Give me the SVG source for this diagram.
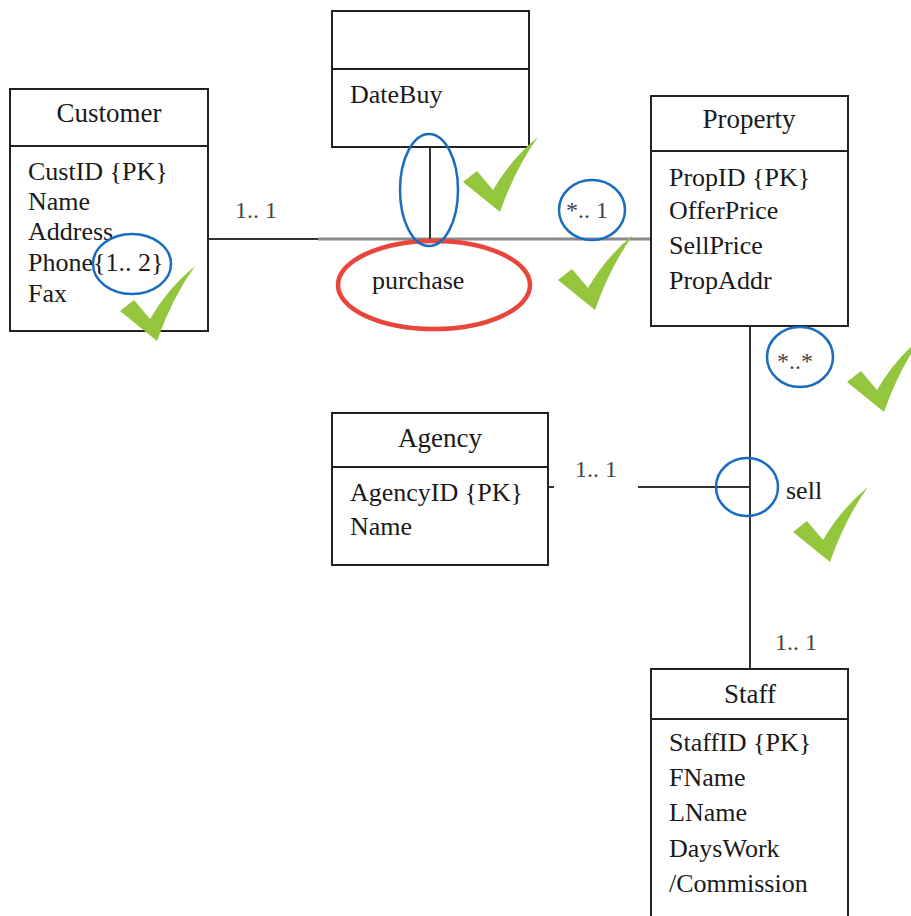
<svg xmlns="http://www.w3.org/2000/svg" width="911" height="916" viewBox="0 0 911 916">
<style>
.box{fill:#fff;stroke:#222;stroke-width:2}
.div{stroke:#222;stroke-width:2}
.t{font-family:'Liberation Serif','DejaVu Serif',serif;font-size:26px;fill:#1a1a1a}
.h{font-size:27px}
.c{text-anchor:middle}
.lbl{font-family:'Liberation Serif','DejaVu Serif',serif;font-size:24px;fill:#444}
.ln{stroke:#333;stroke-width:2;fill:none}
.blue{fill:none;stroke:#1a6cc0;stroke-width:2.5}
.red{fill:none;stroke:#e8453c;stroke-width:4.5}
.chk{fill:#93c63c}
</style>
<defs>
<path id="tick" d="M0,45 L14,34 L30,53 Q48,22 75,0 Q52,32 37,75 Z"/>
</defs>
<g id="connectors">
<line class="ln" x1="208" y1="239" x2="318" y2="239" stroke="#555"/>
<line x1="318" y1="239" x2="651" y2="239" stroke="#8a8a8a" stroke-width="3"/>
<line class="ln" x1="430" y1="147" x2="430" y2="239"/>
<line class="ln" x1="750" y1="326" x2="750" y2="669"/>
<line class="ln" x1="548" y1="487" x2="554" y2="487"/>
<line class="ln" x1="638" y1="487" x2="750" y2="487"/>
<text class="lbl" x="235" y="218">1.. 1</text>
<text class="lbl" x="566" y="218">*.. 1</text>
<text class="lbl" x="777" y="369">*..*</text>
<text class="lbl" x="575" y="477">1.. 1</text>
<text class="lbl" x="775" y="650">1.. 1</text>
<text class="t" x="372" y="289">purchase</text>
<text class="t" x="786" y="499">sell</text>
</g>
<g id="customer">
<rect class="box" x="10" y="89" width="198" height="242"/>
<line class="div" x1="10" y1="146" x2="208" y2="146"/>
<text class="t h c" x="109" y="122">Customer</text>
<text class="t" x="28" y="180">CustID {PK}</text>
<text class="t" x="28" y="210">Name</text>
<text class="t" x="28" y="240">Address</text>
<text class="t" x="28" y="271">Phone{1.. 2}</text>
<text class="t" x="28" y="302">Fax</text>
</g>
<g id="datebuy">
<rect class="box" x="332" y="11" width="197" height="136"/>
<line class="div" x1="332" y1="69" x2="529" y2="69"/>
<text class="t" x="350" y="103">DateBuy</text>
</g>
<g id="property">
<rect class="box" x="651" y="96" width="197" height="230"/>
<line class="div" x1="651" y1="151" x2="848" y2="151"/>
<text class="t h c" x="749" y="128">Property</text>
<text class="t" x="669" y="186">PropID {PK}</text>
<text class="t" x="669" y="219">OfferPrice</text>
<text class="t" x="669" y="254">SellPrice</text>
<text class="t" x="669" y="289">PropAddr</text>
</g>
<g id="agency">
<rect class="box" x="332" y="413" width="216" height="152"/>
<line class="div" x1="332" y1="467" x2="548" y2="467"/>
<text class="t h c" x="440" y="447">Agency</text>
<text class="t" x="350" y="501">AgencyID {PK}</text>
<text class="t" x="350" y="535">Name</text>
</g>
<g id="staff">
<rect class="box" x="651" y="669" width="197" height="260"/>
<line class="div" x1="651" y1="719" x2="848" y2="719"/>
<text class="t h c" x="750" y="703">Staff</text>
<text class="t" x="669" y="751">StaffID {PK}</text>
<text class="t" x="669" y="786">FName</text>
<text class="t" x="669" y="821">LName</text>
<text class="t" x="669" y="857">DaysWork</text>
<text class="t" x="669" y="892">/Commission</text>
</g>
<g id="annotations">
<ellipse class="red" cx="434" cy="285" rx="96" ry="44"/>
<ellipse class="blue" cx="429" cy="190" rx="29" ry="56"/>
<ellipse class="blue" cx="592" cy="210" rx="33" ry="30"/>
<ellipse class="blue" cx="132" cy="264" rx="39" ry="30"/>
<ellipse class="blue" cx="800" cy="357" rx="33" ry="30"/>
<ellipse class="blue" cx="747" cy="487" rx="31" ry="29"/>
<use class="chk" href="#tick" transform="translate(120,266)"/>
<use class="chk" href="#tick" transform="translate(463,137)"/>
<use class="chk" href="#tick" transform="translate(558,235)"/>
<use class="chk" href="#tick" transform="translate(847,337)"/>
<use class="chk" href="#tick" transform="translate(793,487)"/>
</g>
</svg>
